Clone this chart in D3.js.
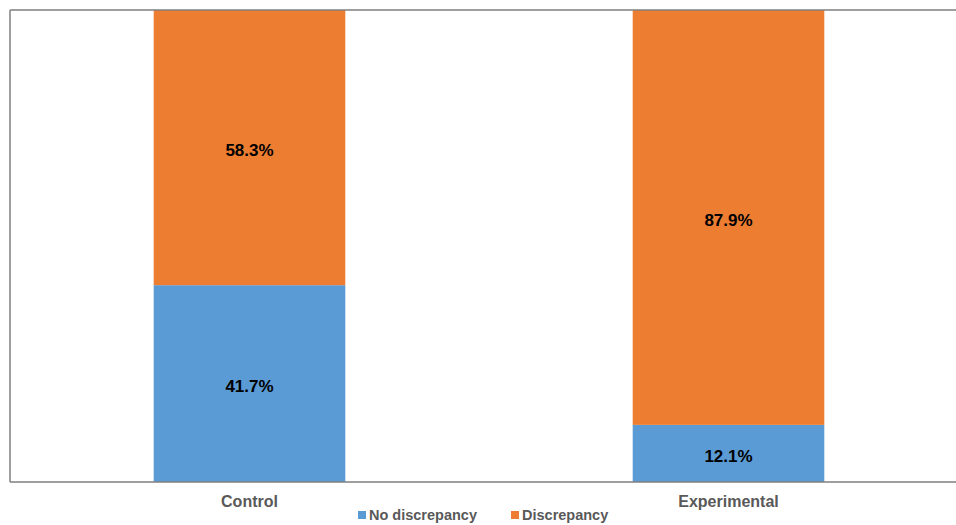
<!DOCTYPE html>
<html>
<head>
<meta charset="utf-8">
<script src="https://cdn.jsdelivr.net/npm/d3@7"></script>
<style>
  body { margin: 0; background: #fff; }
  svg { display: block; font-family: Arial, "Liberation Sans", sans-serif; }
</style>
</head>
<body>
<svg id="chart" width="956" height="525"></svg>
<script>
const groups = ["Control", "Experimental"];
const seriesNames = ["No discrepancy", "Discrepancy"];
const noDiscrepancy = [41.7, 12.1];
const discrepancy = [58.3, 87.9];
const colors = ["#5b9bd5", "#ed7d31"];

const width = 956, height = 525;
const margin = {top: 10, left: 10, bottom: 43};

const svg = d3.select("#chart");

const rows = groups.map((g, i) => ({group: g, "No discrepancy": noDiscrepancy[i], "Discrepancy": discrepancy[i]}));
const stacked = d3.stack().keys(seriesNames)(rows);

const x = d3.scaleBand()
    .domain(groups)
    .range([margin.left, 968])
    .paddingInner(0.6)
    .paddingOuter(0.3);

const y = d3.scaleLinear()
    .domain([0, 100])
    .range([height - margin.bottom, margin.top]);

// bars
const layer = svg.append("g")
  .selectAll("g")
  .data(stacked)
  .join("g")
    .attr("fill", (d, i) => colors[i]);

layer.selectAll("rect")
  .data(d => d)
  .join("rect")
    .attr("x", d => x(d.data.group))
    .attr("y", d => y(d[1]))
    .attr("width", x.bandwidth())
    .attr("height", d => y(d[0]) - y(d[1]));

// value labels
layer.selectAll("text")
  .data(d => d)
  .join("text")
    .attr("x", d => x(d.data.group) + x.bandwidth() / 2)
    .attr("y", d => (y(d[0]) + y(d[1])) / 2 + 2)
    .attr("dy", "0.36em")
    .attr("text-anchor", "middle")
    .attr("font-size", 17)
    .attr("font-weight", "bold")
    .attr("fill", "#000")
    .text(d => (d[1] - d[0]).toFixed(1) + "%");

// frame lines (left, top, bottom)
const frame = svg.append("g").attr("stroke", "#7f7f7f").attr("stroke-width", 1.5).attr("fill", "none");
frame.append("line").attr("x1", margin.left).attr("x2", margin.left).attr("y1", y(100)).attr("y2", y(0));
frame.append("line").attr("x1", margin.left).attr("x2", width).attr("y1", y(100)).attr("y2", y(100));
frame.append("line").attr("x1", margin.left).attr("x2", width).attr("y1", y(0)).attr("y2", y(0));

// category labels
svg.append("g")
  .selectAll("text")
  .data(groups)
  .join("text")
    .attr("x", d => x(d) + x.bandwidth() / 2)
    .attr("y", 507)
    .attr("text-anchor", "middle")
    .attr("font-size", 16)
    .attr("font-weight", "bold")
    .attr("fill", "#595959")
    .text(d => d);

// legend
const legendX = [358, 511];
const legend = svg.append("g")
  .selectAll("g")
  .data(seriesNames)
  .join("g")
    .attr("transform", (d, i) => `translate(${legendX[i]},515)`);

legend.append("rect")
    .attr("x", 0)
    .attr("y", -4)
    .attr("width", 8)
    .attr("height", 8)
    .attr("fill", (d, i) => colors[i]);

legend.append("text")
    .attr("x", 11)
    .attr("dy", "0.36em")
    .attr("font-size", 14.5)
    .attr("font-weight", "bold")
    .attr("fill", "#595959")
    .text(d => d);
</script>
</body>
</html>
